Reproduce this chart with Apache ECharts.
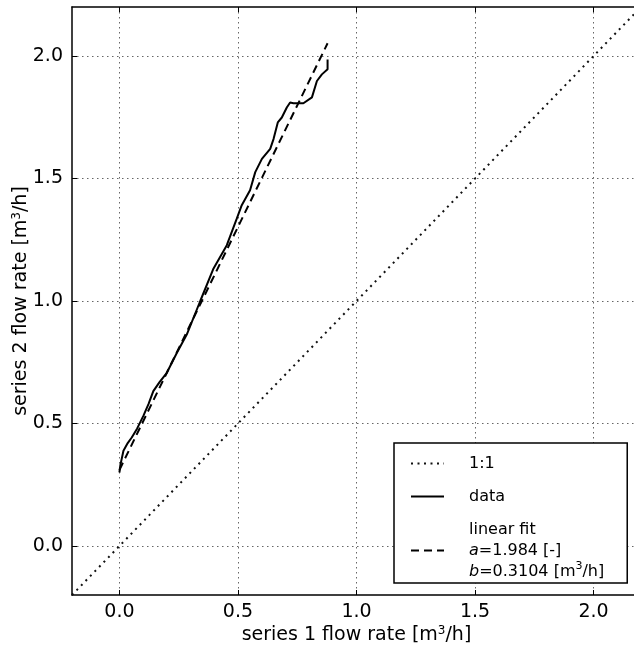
<!DOCTYPE html>
<html>
<head>
<meta charset="utf-8">
<script src="https://cdn.jsdelivr.net/npm/echarts@6/dist/echarts.min.js"></script>
<style>
  html, body { margin: 0; padding: 0; background: #fff; }
  #chart { width: 634px; height: 648px; }
</style>
</head>
<body>
<div id="chart"></div>
<script>
// measured series 1 / series 2 flow rates (m3/h)
const dataX = [0.0, 0.004, 0.017, 0.035, 0.052, 0.075, 0.101, 0.123, 0.143, 0.17, 0.2, 0.242, 0.284, 0.341,
  0.397, 0.453, 0.495, 0.516, 0.551, 0.573, 0.601, 0.636, 0.65, 0.668, 0.685, 0.706, 0.72, 0.734, 0.776,
  0.812, 0.833, 0.854, 0.878, 0.878];
const dataY = [0.3, 0.33, 0.389, 0.42, 0.443, 0.48, 0.531, 0.58, 0.632, 0.67, 0.707, 0.788, 0.863, 1.0,
  1.133, 1.228, 1.336, 1.391, 1.452, 1.526, 1.58, 1.621, 1.661, 1.729, 1.749, 1.79, 1.81, 1.807, 1.807,
  1.831, 1.898, 1.925, 1.946, 1.986];
const fitX = [0.0, 0.878];
const fitY = [0.3104, 2.052];
const oneX = [-0.2, 2.2];
const oneY = [-0.2, 2.2];
const axisMin = -0.2;
const axisMax = 2.2;
const tickValues = [0, 0.5, 1, 1.5, 2];

const font = "DejaVu Sans";
const chart = echarts.init(document.getElementById("chart"));

function pairs(xs, ys) {
  return xs.map((x, i) => [x, ys[i]]);
}

function valueAxis(pos, extra) {
  return {
    type: "value",
    position: pos,
    min: axisMin,
    max: axisMax,
    axisLine: { show: true, onZero: false, lineStyle: { color: "#000", width: 1.5 } },
    axisTick: { show: true, inside: true, length: 5, customValues: tickValues, lineStyle: { color: "#000", width: 1 } },
    splitLine: { show: false },
    axisLabel: { show: false, customValues: tickValues },
    ...extra,
  };
}

const labelStyle = {
  show: true,
  customValues: tickValues,
  color: "#000",
  fontFamily: font,
  fontSize: 19,
  formatter: (v) => v.toFixed(1),
};
const gridLine = { show: true, lineStyle: { color: "#666", width: 1, type: [1.5, 3.5] } };
const nameRich = { sup: { fontSize: 12, fontFamily: font, color: "#000", verticalAlign: "top", padding: [0, 0, 9, 0] } };

chart.setOption({
  animation: false,
  grid: { left: 72, top: 7, width: 569, height: 588, show: false, outerBoundsMode: "none", containLabel: false },
  xAxis: [
    valueAxis("bottom", {
      axisLabel: { ...labelStyle, margin: 8 },
      splitLine: gridLine,
      name: "series 1 flow rate [m{sup|3}/h]",
      nameLocation: "middle",
      nameGap: 30,
      nameMoveOverlap: false,
      nameTextStyle: { color: "#000", fontFamily: font, fontSize: 19, rich: nameRich },
    }),
    valueAxis("top", {}),
  ],
  yAxis: [
    valueAxis("left", {
      axisLabel: { ...labelStyle, margin: 9 },
      splitLine: gridLine,
      name: "series 2 flow rate [m{sup|3}/h]",
      nameLocation: "middle",
      nameGap: 40,
      nameMoveOverlap: false,
      nameTextStyle: { color: "#000", fontFamily: font, fontSize: 19, rich: nameRich },
    }),
    valueAxis("right", {}),
  ],
  legend: {
    orient: "vertical",
    left: 394,
    top: 443,
    data: ["1:1", "data", "linear fit"],
    backgroundColor: "#fff",
    borderColor: "#000",
    borderWidth: 1.5,
    borderRadius: 0,
    padding: [10, 23, 1, 16],
    itemWidth: 33,
    itemHeight: 14,
    itemGap: 12,
    selectedMode: false,
    itemStyle: { opacity: 0 },
    textStyle: {
      color: "#000",
      fontFamily: font,
      fontSize: 16,
      lineHeight: 21,
      padding: [0, 0, 0, 20],
      rich: {
        it: { fontStyle: "italic", fontFamily: font, fontSize: 16, color: "#000" },
        sup: { fontSize: 11, fontFamily: font, color: "#000", verticalAlign: "top", padding: [0, 0, 8, 0] },
      },
    },
    formatter: (name) => {
      if (name === "linear fit") {
        return "linear fit\n{it|a}=1.984 [-]\n{it|b}=0.3104 [m{sup|3}/h]";
      }
      return name;
    },
  },
  series: [
    {
      name: "1:1",
      type: "line",
      data: pairs(oneX, oneY),
      symbol: "none",
      itemStyle: { color: "#000" },
      lineStyle: { color: "#111", width: 2, type: [2, 4.5] },
      z: 3,
    },
    {
      name: "data",
      type: "line",
      data: pairs(dataX, dataY),
      symbol: "none",
      itemStyle: { color: "#000" },
      lineStyle: { color: "#000", width: 2, type: "solid" },
      z: 4,
    },
    {
      name: "linear fit",
      type: "line",
      data: pairs(fitX, fitY),
      symbol: "none",
      itemStyle: { color: "#000" },
      lineStyle: { color: "#000", width: 2, type: [8, 5] },
      z: 4,
    },
  ],
});
</script>
</body>
</html>
